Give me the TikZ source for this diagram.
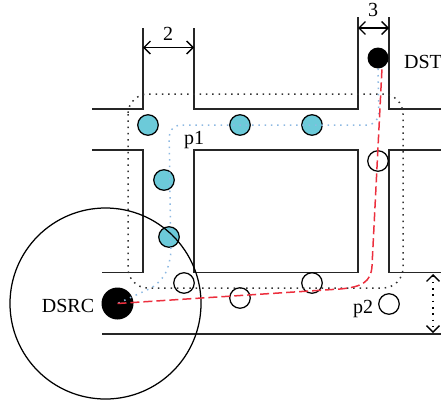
\documentclass[tikz,border=0pt]{standalone}
\usepackage{fontspec}
\setmainfont{Liberation Serif}
\usetikzlibrary{arrows.meta}
\definecolor{nodeteal}{HTML}{6CCAD9}
\definecolor{pathblue}{HTML}{8DB9E2}
\definecolor{pathred}{HTML}{EC2F3E}
\tikzset{
  wall/.style={line width=1.4pt,black!85},
  hop/.style={circle,draw,line width=1.25pt,minimum size=20.5pt,inner sep=0pt},
  hopfull/.style={hop,fill=nodeteal},
  hopempty/.style={hop,fill=none},
  endpoint/.style={circle,fill=black,inner sep=0pt},
  label/.style={inner sep=0pt,font=\fontsize{20}{20}\selectfont},
  dots/.style={line width=1.5pt,dash pattern=on 1.5pt off 4.8pt},
  measure/.style={line width=1.25pt,{Straight Barb[length=6.5pt,width=13pt]}-{Straight Barb[length=6.5pt,width=13pt]}}
}
\begin{document}
\begin{tikzpicture}[x=1pt,y=-1pt]
      \useasboundingbox (0,0) rectangle (441,402);
      \begin{scope}[wall]
        \draw (92,109) -- (143,109) -- (143,28);
        \draw (194,28) -- (194,109) -- (358,109) -- (358,17);
        \draw (389,17) -- (389,109) -- (441,109);
        \draw (92,150) -- (143,150) -- (143,272.5) -- (102,272.5);
        \draw (194,150) rectangle (358,272.5);
        \draw (441,150) -- (389,150) -- (389,272.5) -- (441,272.5);
        \draw (102,334) -- (441,334);
      \end{scope}
      \draw
        (148,125) node[hopfull] (a1){}
        (240,125) node[hopfull] (a2){}
        (312,125) node[hopfull] (a3){}
        (164,180) node[hopfull] (a4){}
        (169,237) node[hopfull] (a5){}
        (378,161) node[hopempty] (b1){}
        (184,283) node[hopempty] (b2){}
        (240,298) node[hopempty] (b3){}
        (312,283) node[hopempty] (b4){}
        (389,304) node[hopempty] (b5){}
        (378,58) node[endpoint,minimum size=21pt] (dst){}
        (117.5,303.5) node[endpoint,minimum size=32pt] (dsrc){};
      \draw[line width=1.25pt] (105.5,303.5) circle (95.5);
      % search area and the two routes
      \draw[dots,black!80,rounded corners=20pt] (128,94) rectangle (403,288);
      \draw[dots,pathblue,rounded corners=12pt] (dst.south) -- (379,125) -- (169,125) -- (171,262) -- (160,284) -- (dsrc.center);
      \coordinate (redtop) at (382,68);
      \draw[pathred,line width=1.5pt,dash pattern=on 9pt off 4pt] (dsrc.center) -- (340,289) .. controls (362,287) and (371,282) .. (372,266) -- (redtop);
      % widths
      \coordinate (w1) at (143,47.5);
      \coordinate (w2) at (194,47.5);
      \coordinate (w3) at (358,28);
      \coordinate (w4) at (389,28);
      \coordinate (w5) at (433,274);
      \coordinate (w6) at (433,333);
      \draw[measure] (w1) -- (w2);
      \draw[measure] (w3) -- (w4);
      \draw[measure,dash pattern=on 1.5pt off 4.8pt] (w5) -- (w6);
      \draw
        (168,34) node[label] (n2){2}
        (373,10) node[label] (n3){3}
        (194,140) node[label] (p1){p1}
        (363,309) node[label] (p2){p2}
        (68,306) node[label] (lsrc){DSRC}
        (423,62) node[label] (ldst){DST};
    \end{tikzpicture}
\end{document}
